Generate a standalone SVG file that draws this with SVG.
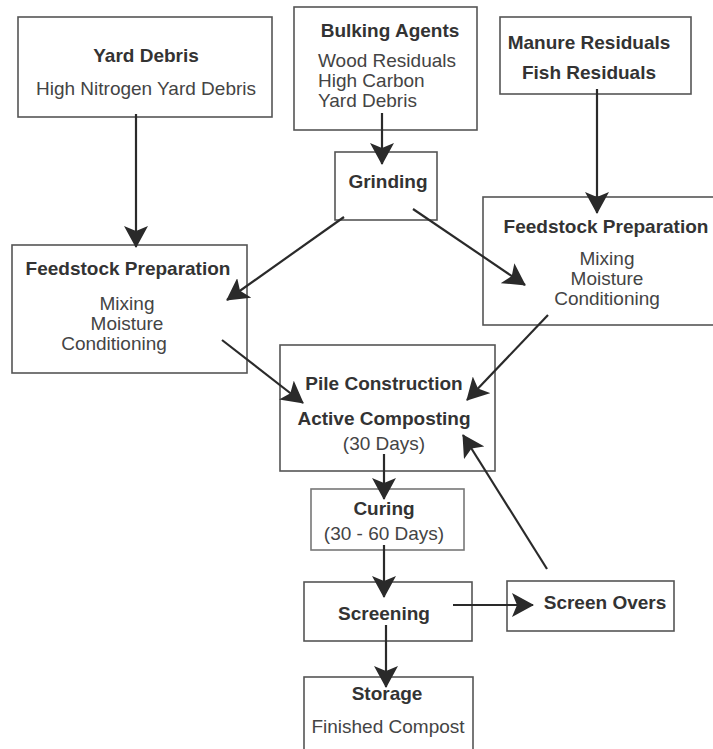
<svg xmlns="http://www.w3.org/2000/svg" width="713" height="749" viewBox="0 0 713 749">
<defs>
<style>
.box{fill:#fff;stroke:#555;stroke-width:1.6}
.t{font-family:"Liberation Sans",Arial,sans-serif;font-size:19px;fill:#333;text-anchor:middle}
.b{font-weight:bold}
.s{fill:#444}
.l{text-anchor:start}
.c{fill:none;stroke:#2a2a2a;stroke-width:2.2}
</style>
<marker id="ah" markerUnits="userSpaceOnUse" viewBox="0 0 22 24" refX="21" refY="12" markerWidth="22" markerHeight="24" orient="auto">
<path d="M0,0 L22,12 L0,24 L5,12 z" fill="#2a2a2a"/>
</marker>
</defs>
<rect width="713" height="749" fill="#fff"/>
<g id="yard-debris">
<rect class="box" x="18" y="17" width="254" height="100"/>
<text class="t b" x="146" y="62">Yard Debris</text>
<text class="t s" x="146" y="95">High Nitrogen Yard Debris</text>
</g>
<g id="bulking-agents">
<rect class="box" x="294" y="7" width="183" height="123"/>
<text class="t b" x="390" y="37">Bulking Agents</text>
<text class="t s l" x="318" y="67">Wood Residuals</text>
<text class="t s l" x="318" y="87">High Carbon</text>
<text class="t s l" x="318" y="107">Yard Debris</text>
</g>
<g id="manure">
<rect class="box" x="500" y="17" width="191" height="77"/>
<text class="t b" x="589" y="49">Manure Residuals</text>
<text class="t b" x="589" y="79">Fish Residuals</text>
</g>
<g id="grinding">
<rect class="box" x="335" y="152" width="102" height="68"/>
<text class="t b" x="388" y="188">Grinding</text>
</g>
<g id="feedstock-left">
<rect class="box" x="12" y="245" width="235" height="128"/>
<text class="t b" x="128" y="275">Feedstock Preparation</text>
<text class="t s" x="127" y="310">Mixing</text>
<text class="t s" x="127" y="330">Moisture</text>
<text class="t s" x="114" y="350">Conditioning</text>
</g>
<g id="feedstock-right">
<rect class="box" x="483" y="197" width="240" height="128"/>
<text class="t b" x="606" y="233">Feedstock Preparation</text>
<text class="t s" x="607" y="265">Mixing</text>
<text class="t s" x="607" y="285">Moisture</text>
<text class="t s" x="607" y="305">Conditioning</text>
</g>
<g id="pile">
<rect class="box" x="280" y="345" width="215" height="126"/>
<text class="t b" x="384" y="390">Pile Construction</text>
<text class="t b" x="384" y="425">Active Composting</text>
<text class="t s" x="384" y="450">(30 Days)</text>
</g>
<g id="curing">
<rect class="box" x="311" y="489" width="153" height="61" style="stroke:#777"/>
<text class="t b" x="384" y="515">Curing</text>
<text class="t s" x="384" y="540">(30 - 60 Days)</text>
</g>
<g id="screening">
<rect class="box" x="304" y="582" width="168" height="59"/>
<text class="t b" x="384" y="620">Screening</text>
</g>
<g id="screen-overs">
<rect class="box" x="507" y="581" width="167" height="50"/>
<text class="t b" x="605" y="609">Screen Overs</text>
</g>
<g id="storage">
<rect class="box" x="304" y="677" width="169" height="80"/>
<text class="t b" x="387" y="700">Storage</text>
<text class="t s" x="388" y="733">Finished Compost</text>
</g>
<g id="connectors">
<line class="c" x1="136" y1="114" x2="136" y2="247" marker-end="url(#ah)"/>
<line class="c" x1="382" y1="113" x2="382" y2="164" marker-end="url(#ah)"/>
<line class="c" x1="597" y1="89" x2="597" y2="213" marker-end="url(#ah)"/>
<line class="c" x1="344" y1="217" x2="227" y2="300" marker-end="url(#ah)"/>
<line class="c" x1="413" y1="209" x2="525" y2="285" marker-end="url(#ah)"/>
<line class="c" x1="222" y1="340" x2="303" y2="403" marker-end="url(#ah)"/>
<line class="c" x1="548" y1="315" x2="467" y2="400" marker-end="url(#ah)"/>
<line class="c" x1="547" y1="569" x2="463" y2="435" marker-end="url(#ah)"/>
<line class="c" x1="384" y1="454" x2="384" y2="499" marker-end="url(#ah)"/>
<line class="c" x1="384" y1="545" x2="384" y2="597" marker-end="url(#ah)"/>
<line class="c" x1="386" y1="625" x2="386" y2="687" marker-end="url(#ah)"/>
<line class="c" x1="453" y1="605" x2="533" y2="605" marker-end="url(#ah)"/>
</g>
</svg>
